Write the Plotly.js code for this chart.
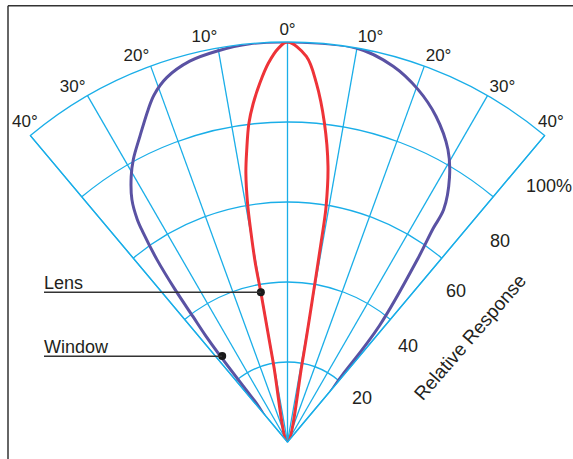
<!DOCTYPE html>
<html>
<head>
<meta charset="utf-8">
<script src="https://cdn.plot.ly/plotly-3.0.1.min.js"></script>
<style>html,body{margin:0;padding:0;background:#fff;}#chart{width:573px;height:459px;}</style>
</head>
<body>
<div id="chart"></div>
<script>
// Angular grid / tick labels (degrees off-axis)
var angleTicks = [-40, -30, -20, -10, 0, 10, 20, 30, 40];
var angleLabels = ["", "30°", "20°", "10°", "0°", "10°", "20°", "30°", ""];
var edgeLabel = "40°";   // shown beside both sector corners
// Radial ticks (relative response, %)
var radialTicks = [20, 40, 60, 80, 100];
var radialLabels = ["20", "40", "60", "80", "100%"];
var radialTitle = "Relative Response";

// Lens response pattern
var lensTheta = [-10.2, -10.2, -10.1, -10.2, -9.9, -9.5, -8.8, -7.95, -6.9, -5.8, -4.4, -2.9, -1.3, 0, 2.8, 4.6, 6.6, 8.35, 9.3, 9.5, 9.8, 10.5, 10.5];
var lensR     = [0, 20, 38, 45.4, 53, 60.5, 68, 73.7, 80.3, 85, 90, 94.8, 98.5, 100, 96.5, 90, 80.3, 69.7, 59.7, 54, 39.8, 20.4, 0];

// Window response pattern
var windowTheta = [-39, -38.6, -38, -37.6, -37, -36.4, -35.6, -34.6, -34, -32.7, -30.5, -28.6, -25.75, -22.8, -21, -18.3, -14.4, -10.3, -5.4, 0, 9.9, 15.7, 20.3, 24.5, 28.75, 31.5, 33.9, 34.3, 35.4, 38.3, 39.3, 39.5];
var windowR     = [0, 13, 27, 33.5, 39.3, 47.4, 56, 63.5, 67.2, 72, 77, 80.5, 84.9, 90, 93, 96, 98.3, 99.3, 100, 100, 100, 97.6, 94, 89.5, 83.4, 77.5, 70, 64.6, 56.3, 37.2, 21.7, 0];

// Callout points on each curve
var lensDot = {theta: -10.1, r: 38};
var windowDot = {theta: -37.2, r: 27};

var cyan = '#1aaee8';
var red = '#ee3338';
var purple = '#5a52a3';
var ink = '#231f20';
var font = {family: 'Liberation Sans, Arial, sans-serif', size: 18, color: ink};
var angFont = {family: font.family, size: 17, color: ink};

var traces = [
  {type: 'scatterpolar', mode: 'lines', theta: windowTheta, r: windowR,
   line: {color: purple, width: 3, shape: 'spline', smoothing: 1}, hoverinfo: 'skip'},
  {type: 'scatterpolar', mode: 'lines', theta: lensTheta, r: lensR,
   line: {color: red, width: 3, shape: 'spline', smoothing: 1}, hoverinfo: 'skip'},
  {type: 'scatterpolar', mode: 'markers', theta: [lensDot.theta, windowDot.theta], r: [lensDot.r, windowDot.r],
   marker: {color: '#1a1a1a', size: 8}, hoverinfo: 'skip'}
];

// plot area: l=30, width=515 ; t=42, height=400
function px(x) { return (x - 30) / 515; }
function py(y) { return (442 - y) / 400; }

// positions of the radial labels beside the right-hand edge
var radialLabelPos = [[361.5, 398], [407.5, 345.5], [456, 290.5], [500, 240.5], [548.5, 185.5]];

var annotations = [
  {xref: 'paper', yref: 'paper', x: px(42), y: py(283), xanchor: 'left', yanchor: 'middle', text: 'Lens', showarrow: false, font: font},
  {xref: 'paper', yref: 'paper', x: px(42), y: py(347), xanchor: 'left', yanchor: 'middle', text: 'Window', showarrow: false, font: font},
  {xref: 'paper', yref: 'paper', x: px(469.5), y: py(337), xanchor: 'center', yanchor: 'middle', text: radialTitle, textangle: -49, showarrow: false,
   font: {family: font.family, size: 19, color: ink}},
  {xref: 'paper', yref: 'paper', x: px(25), y: py(121), xanchor: 'center', yanchor: 'middle', text: edgeLabel, showarrow: false, font: angFont},
  {xref: 'paper', yref: 'paper', x: px(551), y: py(121), xanchor: 'center', yanchor: 'middle', text: edgeLabel, showarrow: false, font: angFont}
];
radialLabels.forEach(function (t, i) {
  annotations.push({xref: 'paper', yref: 'paper', x: px(radialLabelPos[i][0]), y: py(radialLabelPos[i][1]),
    xanchor: 'center', yanchor: 'middle', text: t, showarrow: false, font: font});
});

var layout = {
  width: 573, height: 459,
  margin: {l: 30, r: 28, t: 42, b: 17},
  paper_bgcolor: '#ffffff',
  showlegend: false,
  font: font,
  polar: {
    sector: [50, 130],
    bgcolor: 'rgba(0,0,0,0)',
    angularaxis: {
      rotation: 90, direction: 'clockwise',
      tickmode: 'array', tickvals: angleTicks, ticktext: angleLabels,
      showgrid: true, gridcolor: cyan, gridwidth: 1.3,
      showline: true, linecolor: cyan, linewidth: 1.3,
      ticks: '', tickfont: angFont
    },
    radialaxis: {
      range: [0, 100], angle: 50, side: 'clockwise',
      tickmode: 'array', tickvals: radialTicks, ticktext: radialLabels,
      showgrid: true, gridcolor: cyan, gridwidth: 1.3,
      showline: false, ticks: '', showticklabels: false
    }
  },
  shapes: [
    {type: 'line', xref: 'paper', yref: 'paper', x0: px(8), x1: px(573), y0: py(5.7), y1: py(5.7), line: {color: '#333', width: 1.5}},
    {type: 'line', xref: 'paper', yref: 'paper', x0: px(8), x1: px(8), y0: py(5.7), y1: py(459), line: {color: '#333', width: 1.5}},
    {type: 'line', xref: 'paper', yref: 'paper', x0: px(44), x1: px(261), y0: py(292.3), y1: py(292.3), line: {color: '#333', width: 1.5}},
    {type: 'line', xref: 'paper', yref: 'paper', x0: px(44), x1: px(222), y0: py(356.3), y1: py(356.3), line: {color: '#333', width: 1.5}}
  ],
  annotations: annotations
};

Plotly.newPlot('chart', traces, layout, {displayModeBar: false, staticPlot: true});
</script>
</body>
</html>
